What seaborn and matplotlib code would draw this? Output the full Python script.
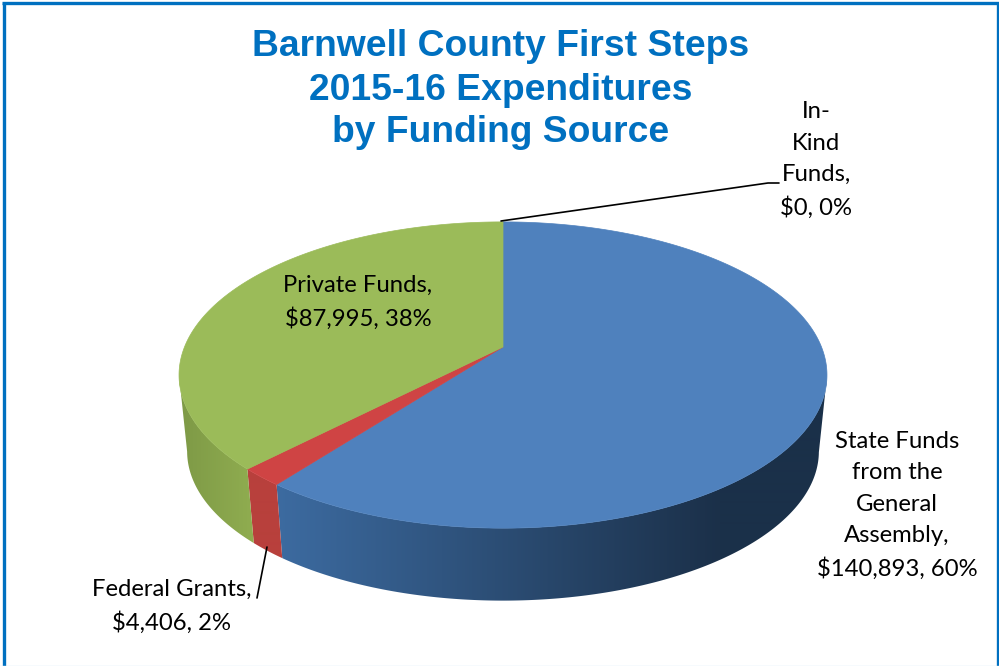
import numpy as np
import matplotlib
matplotlib.use("Agg")
import matplotlib.pyplot as plt
from matplotlib.patches import Polygon
from matplotlib.colors import to_rgb
import seaborn as sns

# --- data ---
categories = ["State Funds\nfrom the\nGeneral\nAssembly", "Federal Grants", "Private Funds", "In-\nKind\nFunds"]
values = [140893, 4406, 87995, 0]
percents = [60, 2, 38, 0]
title_lines = ["Barnwell County First Steps", "2015-16 Expenditures", "by Funding Source"]

# --- style ---
top_colors = ["#4f81bd", "#cf4444", "#9bbb59", "#8064a2"]
side_left = ["#3d6ca2", "#b8403c", "#7f9b47", "#8064a2"]
side_right = ["#1b3049", "#b8403c", "#90ad50", "#8064a2"]
grad_span = [(270, 720), (245, 285), (185, 255), (0, 1)]
title_color = "#0070c0"

sns.set_theme(style="white")
plt.rcParams["font.family"] = ["Lato", "DejaVu Sans"]

fig = plt.figure(figsize=(9.99, 6.66), dpi=100, facecolor="white")
ax = fig.add_axes([0, 0, 1, 1])
ax.axis("off")

# projective view of the pie disc
CX, CY = 503, 347
A, B, K = 318.5, 148, 0.183
DEPTH, SCALE = 77, 0.975


def project(theta, scale=1.0, drop=0.0):
    x, v = np.sin(theta), -np.cos(theta)
    w = 1 - K * v
    return CX + scale * A * x / w, CY + drop + scale * B * v / w


total = sum(values)
edges = np.concatenate([[0], np.cumsum(values)]) / total * 2 * np.pi

# side wall: a horizontal shade clipped to the visible wall of each slice
for i in range(len(values)):
    if values[i] == 0:
        continue
    t = np.linspace(edges[i], edges[i + 1], 600)
    t = t[-np.cos(t) >= K]
    xt, yt = project(t)
    xb, yb = project(t, SCALE, DEPTH)
    wall = Polygon(np.c_[np.r_[xt, xb[::-1]], np.r_[yt, yb[::-1]]], closed=True,
                   transform=ax.transData, facecolor="none", edgecolor="none")
    ax.add_patch(wall)
    c0, c1 = np.array(to_rgb(side_left[i])), np.array(to_rgb(side_right[i]))
    f = np.clip((np.arange(999) + 0.5 - grad_span[i][0]) / (grad_span[i][1] - grad_span[i][0]), 0, 1)
    shade = (c0[None, :] + (c1 - c0)[None, :] * f[:, None])[None, :, :]
    im = ax.imshow(shade, extent=(0, 999, 666, 0), aspect="auto", zorder=2, interpolation="bilinear")
    im.set_clip_path(wall)

ax.set_xlim(0, 999)
ax.set_ylim(666, 0)

# top face
for i in range(len(values)):
    if values[i] == 0:
        continue
    t = np.linspace(edges[i], edges[i + 1], 400)
    xs, ys = project(t)
    ax.fill(np.r_[CX, xs], np.r_[CY, ys], color=top_colors[i], lw=0.5, zorder=3)

# labels
names = [f"{c},\n${v:,}, {p}%" for c, v, p in zip(categories, values, percents)]
label_pos = [(897, 505.5), (172, 606), (358, 302.5), (816, 160)]
for s, (x, y) in zip(names, label_pos):
    ax.text(x, y, s, ha="center", va="center", fontsize=17.2, color="black",
            linespacing=1.6, zorder=5)

# leader lines
ax.plot([501, 768, 779], [221, 183, 183], color="black", lw=1.2, zorder=4)
ax.plot([267, 257], [547, 598], color="black", lw=1.2, zorder=4)

# title
for s, y in zip(title_lines, [47, 90, 133]):
    ax.text(501, y, s, ha="center", va="center", fontsize=26.8, fontweight="bold",
            family="Liberation Sans", color=title_color, zorder=5)

# frame
ax.plot([3.5, 3.5], [666, 3], color=title_color, lw=2.4, solid_capstyle="butt", zorder=6)
ax.plot([2, 999], [2.8, 2.8], color=title_color, lw=2.4, solid_capstyle="butt", zorder=6)
ax.plot([997.8, 997.8], [2, 666], color=title_color, lw=2.4, solid_capstyle="butt", zorder=6)
ax.plot([0, 999], [665.5, 665.5], color="#d5e6f5", lw=1, zorder=6)

fig.savefig("out.png", dpi=100, facecolor="white")
